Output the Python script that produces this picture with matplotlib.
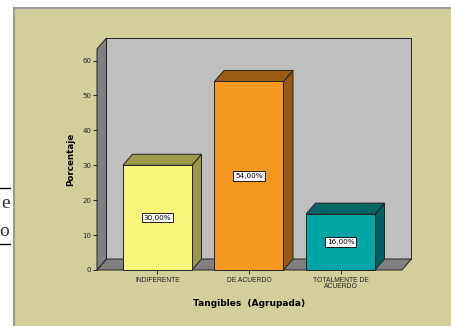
import matplotlib
matplotlib.use("Agg")
import matplotlib.pyplot as plt
from matplotlib.patches import Polygon, Rectangle
from matplotlib.lines import Line2D

# Data
categories = ["INDIFERENTE", "DE ACUERDO", "TOTALMENTE DE\nACUERDO"]
percentages = [30.0, 54.0, 16.0]
value_labels = ["30,00%", "54,00%", "16,00%"]
y_ticks = [0, 10, 20, 30, 40, 50, 60]

# Styling
front_colors = ["#F9F57A", "#F7981F", "#00A6A6"]
top_colors = ["#9E9B4C", "#9C5C14", "#006666"]
side_colors = ["#9A984A", "#985812", "#006060"]
bg_color = "#D3CF9A"
wall_color = "#BFBFBF"
dark_wall = "#808080"

W, H, DPI = 452, 326, 100
fig = plt.figure(figsize=(W / DPI, H / DPI), dpi=DPI)
fig.patch.set_facecolor("white")

# Khaki panel with grey border on top and left
fig.add_artist(Rectangle((14 / W, 0), 1, (H - 8) / H, transform=fig.transFigure,
                         facecolor=bg_color, edgecolor="none", zorder=-2))
fig.add_artist(Line2D([14 / W, 14 / W], [0, (H - 8) / H], color="#9A9A9A", lw=1.5,
                      transform=fig.transFigure, zorder=-1))
fig.add_artist(Line2D([14 / W, 1], [(H - 8) / H, (H - 8) / H], color="#9A9A9A", lw=1.5,
                      transform=fig.transFigure, zorder=-1))

# Fragments of surrounding document on the left edge
fig.add_artist(Line2D([0, 9.5 / W], [1 - 188 / H, 1 - 188 / H], color="black", lw=1.0,
                      transform=fig.transFigure))
fig.add_artist(Line2D([0, 9.5 / W], [1 - 244 / H, 1 - 244 / H], color="black", lw=1.0,
                      transform=fig.transFigure))
fig.text(9.5 / W, 1 - 203 / H, "e", ha="right", va="center", fontsize=14,
         family="Liberation Serif", color="#333333")
fig.text(9.5 / W, 1 - 231 / H, "o", ha="right", va="center", fontsize=14,
         family="Liberation Serif", color="#333333")

# Plot axes: front plane of the 3D box
x_left_px, x_right_px, y_bot_px, y_top_px = 97, 402, 270, 49
ax = fig.add_axes([x_left_px / W, 1 - y_bot_px / H,
                   (x_right_px - x_left_px) / W, (y_bot_px - y_top_px) / H])
ax.set_facecolor("none")
for s in ax.spines.values():
    s.set_visible(False)

xl, xr = -0.661, 2.672
ymax = 63.3
ax.set_xlim(xl, xr)
ax.set_ylim(0, ymax)

# Depth offset of the 3D effect (in data units)
ppx = (x_right_px - x_left_px) / (xr - xl)
ppy = (y_bot_px - y_top_px) / ymax
ddx = 9.5 / ppx
ddy = 11.0 / ppy

ec = "#222222"
lw = 0.7

# Back wall, left wall and floor
ax.add_patch(Polygon([(xl + ddx, ddy), (xr + ddx, ddy), (xr + ddx, ymax + ddy), (xl + ddx, ymax + ddy)],
                     closed=True, facecolor=wall_color, edgecolor=ec, lw=lw, clip_on=False, zorder=1))
ax.add_patch(Polygon([(xl, 0), (xl, ymax), (xl + ddx, ymax + ddy), (xl + ddx, ddy)],
                     closed=True, facecolor=dark_wall, edgecolor=ec, lw=lw, clip_on=False, zorder=1))
ax.add_patch(Polygon([(xl, 0), (xr, 0), (xr + ddx, ddy), (xl + ddx, ddy)],
                     closed=True, facecolor=dark_wall, edgecolor=ec, lw=lw, clip_on=False, zorder=1))

# Bars
bw = 0.754
for i, v in enumerate(percentages):
    x0, x1 = i - bw / 2, i + bw / 2
    ax.add_patch(Polygon([(x1, 0), (x1 + ddx, ddy), (x1 + ddx, v + ddy), (x1, v)], closed=True,
                         facecolor=side_colors[i], edgecolor=ec, lw=lw, clip_on=False, zorder=2))
    ax.add_patch(Polygon([(x0, v), (x0 + ddx, v + ddy), (x1 + ddx, v + ddy), (x1, v)], closed=True,
                         facecolor=top_colors[i], edgecolor=ec, lw=lw, clip_on=False, zorder=2))
    ax.add_patch(Rectangle((x0, 0), bw, v, facecolor=front_colors[i], edgecolor=ec, lw=lw,
                           clip_on=False, zorder=3))
    ax.text(i, v / 2, value_labels[i], ha="center", va="center", fontsize=5.2,
            family="DejaVu Sans", zorder=4,
            bbox=dict(boxstyle="square,pad=0.25", facecolor="white", edgecolor="black", lw=0.6))

# Ticks and labels
ax.set_yticks(y_ticks)
ax.set_yticklabels([str(t) for t in y_ticks], fontsize=5, family="DejaVu Sans", color="#222222")
ax.set_xticks(range(len(categories)))
ax.set_xticklabels(categories, fontsize=4.9, family="Liberation Sans", color="#222222",
                   linespacing=0.9)
ax.tick_params(axis="y", length=3, width=0.7, pad=1, color="#222222")
ax.tick_params(axis="x", length=3, width=0.7, pad=2, color="#222222")

ax.set_ylabel("Porcentaje", fontsize=6.3, fontweight="bold", family="DejaVu Sans", labelpad=5.5)
ax.set_xlabel("Tangibles  (Agrupada)", fontsize=6.5, fontweight="bold", family="DejaVu Sans",
              labelpad=6.5)

fig.savefig("out.png", dpi=DPI)
